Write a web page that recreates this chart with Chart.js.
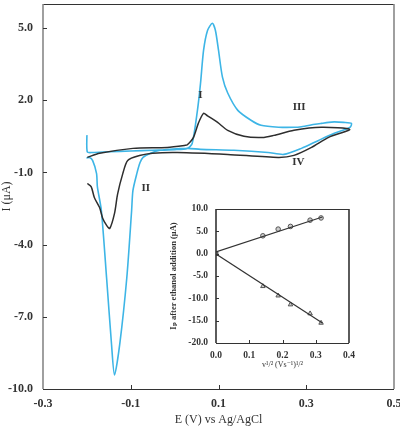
<!DOCTYPE html>
<html>
<head>
<meta charset="utf-8">
<script src="https://cdn.jsdelivr.net/npm/chart.js@4"></script>
<style>
  html,body{margin:0;padding:0;background:#fff;}
  #wrap{position:relative;width:400px;height:427px;}
  #main{position:absolute;left:0;top:0;}
  #inset{position:absolute;left:165px;top:203px;}
</style>
</head>
<body>
<div id="wrap">
  <canvas id="main" width="400" height="427"></canvas>
  <canvas id="inset" width="190" height="170"></canvas>
</div>
<script>
// ---------- Main CV data (E in V vs Ag/AgCl, I in µA) ----------
const blueE = [-0.200,-0.199,-0.187,-0.150,-0.100,-0.050,0.000,0.029,0.040,0.052,0.059,0.066,0.075,0.086,0.093,0.100,0.109,0.121,0.144,0.174,0.197,0.237,0.272,0.289,0.320,0.335,0.351,0.364,0.385,0.403,
               0.400,0.364,0.328,0.289,0.249,0.213,0.135,0.059,0.029,-0.033,-0.055,-0.072,-0.079,-0.086,-0.095,-0.098,-0.109,-0.125,-0.137,-0.144,-0.155,-0.167,-0.176,-0.178,-0.187,-0.194,-0.201];
const blueI = [0.55,-0.15,-0.17,-0.14,-0.11,-0.08,-0.05,0.00,0.20,1.58,2.70,4.08,4.90,5.20,4.90,4.08,2.96,2.30,1.58,1.17,0.96,0.88,0.875,0.90,1.00,1.04,1.08,1.10,1.08,1.04,
               0.88,0.625,0.33,0.00,-0.25,-0.17,-0.08,-0.04,0.00,-0.08,-0.20,-0.375,-0.60,-1.04,-1.75,-2.58,-5.375,-8.125,-9.42,-8.10,-5.40,-2.58,-1.60,-1.04,-0.50,-0.375,-0.40];
const blackE = [-0.199,-0.171,-0.095,-0.017,0.024,0.029,0.043,0.054,0.066,0.075,0.098,0.121,0.158,0.200,0.226,0.272,0.334,0.399,
                0.351,0.312,0.272,0.236,0.121,0.006,-0.050,-0.080,-0.107,-0.118,-0.130,-0.137,-0.148,-0.155,-0.164,-0.171,-0.183,-0.190,-0.199];
const blackI = [-0.375,-0.20,0.00,0.04,0.125,0.15,0.46,1.04,1.46,1.35,1.08,0.75,0.50,0.45,0.54,0.75,0.875,0.79,
                0.46,0.04,-0.29,-0.375,-0.25,-0.17,-0.20,-0.30,-0.50,-1.04,-1.90,-2.70,-3.33,-3.20,-2.90,-2.46,-2.04,-1.60,-1.46];
const mainXTicks = [-0.3,-0.1,0.1,0.3,0.5];
const mainYTicks = [-10,-7,-4,-1,2,5];
const peakLabels = ['I','II','III','IV'];
const peakLabelE = [0.059,-0.066,0.284,0.282];
const peakLabelI = [2.2,-1.67,1.7,-0.58];

// ---------- Inset data ----------
const sqrtV = [0.000,0.141,0.187,0.224,0.283,0.316];
const ipAnodic = [0.0,4.0,5.5,6.1,7.5,8.0];
const ipCathodic = [0.0,-7.3,-9.4,-11.4,-13.4,-15.5];
const fitX = [0.0,0.32];
const fitAnodic = [0.4,8.2];
const fitCathodic = [-0.1,-15.5];
const insetXTicks = [0.0,0.1,0.2,0.3,0.4];
const insetYTicks = [-20,-15,-10,-5,0,5,10];

const zip = (xs, ys) => xs.map((x,i)=>({x, y: ys[i]}));
const serif = '"Liberation Serif","DejaVu Serif","Times New Roman",serif';

function noPad(s){ s.paddingTop = 0; s.paddingBottom = 0; s.paddingLeft = 0; s.paddingRight = 0; }

function framePlugin(tickLen, leftColor, rightColor){
  return {
    id:'frame'+tickLen,
    afterDraw(chart){
      const {ctx, chartArea:a, scales:{x, y}} = chart;
      ctx.save();
      ctx.lineWidth = 1;
      ctx.strokeStyle = '#333';
      ctx.beginPath();
      ctx.moveTo(a.left, a.top+0.5); ctx.lineTo(a.right, a.top+0.5);
      ctx.moveTo(a.left, a.bottom+0.5); ctx.lineTo(a.right, a.bottom+0.5);
      ctx.stroke();
      ctx.lineWidth = 1.6;
      ctx.strokeStyle = leftColor;
      ctx.beginPath(); ctx.moveTo(a.left, a.top); ctx.lineTo(a.left, a.bottom); ctx.stroke();
      ctx.strokeStyle = rightColor;
      ctx.beginPath(); ctx.moveTo(a.right, a.top); ctx.lineTo(a.right, a.bottom); ctx.stroke();
      ctx.lineWidth = 1; ctx.strokeStyle = '#333';
      ctx.beginPath();
      x.ticks.forEach(t=>{
        const px = Math.round(x.getPixelForValue(t.value))+0.5;
        if (px > a.left+2 && px < a.right-2){ ctx.moveTo(px, a.bottom); ctx.lineTo(px, a.bottom - tickLen); }
      });
      y.ticks.forEach(t=>{
        const py = Math.round(y.getPixelForValue(t.value))+0.5;
        if (py > a.top+2 && py < a.bottom-2){ ctx.moveTo(a.left, py); ctx.lineTo(a.left + tickLen, py); }
      });
      ctx.stroke();
      ctx.restore();
    }
  };
}

const labelPlugin = {
  id:'peakLabels',
  afterDatasetsDraw(chart){
    const {ctx, scales:{x, y}} = chart;
    ctx.save();
    ctx.font = 'bold 11px ' + serif;
    ctx.fillStyle = '#333';
    ctx.textAlign = 'center';
    ctx.textBaseline = 'middle';
    peakLabels.forEach((s,i)=>{
      ctx.fillText(s, x.getPixelForValue(peakLabelE[i]), y.getPixelForValue(peakLabelI[i]));
    });
    ctx.restore();
  }
};

new Chart(document.getElementById('main'), {
  type:'scatter',
  data:{
    datasets:[
      {label:'blank', data: zip(blackE, blackI), showLine:true, borderColor:'#2e2e2e', borderWidth:1.5, pointRadius:0, tension:0.25, fill:false},
      {label:'ethanol', data: zip(blueE, blueI), showLine:true, borderColor:'#3db5e6', borderWidth:1.6, pointRadius:0, tension:0.25, fill:false}
    ]
  },
  options:{
    responsive:false, animation:false,
    layout:{padding:{top:4,right:6,left:0,bottom:0}},
    plugins:{legend:{display:false}, tooltip:{enabled:false}},
    scales:{
      x:{type:'linear', min:-0.3, max:0.5,
         afterBuildTicks: s => { s.ticks = mainXTicks.map(v=>({value:v})); },
         afterFit: s => { s.height = 38; noPad(s); },
         grid:{display:false, drawTicks:false}, border:{display:false},
         ticks:{padding:8, color:'#333', font:{family:serif, size:12, weight:'bold'}, callback:v=>Number(v).toFixed(1), maxRotation:0, autoSkip:false},
         title:{display:true, text:'E (V) vs Ag/AgCl', color:'#333', padding:{top:0,bottom:0}, font:{family:serif, size:12}}
      },
      y:{type:'linear', min:-10, max:6,
         afterBuildTicks: s => { s.ticks = mainYTicks.map(v=>({value:v})); },
         afterFit: s => { s.width = 43; noPad(s); },
         grid:{display:false, drawTicks:false}, border:{display:false},
         ticks:{padding:10, color:'#333', font:{family:serif, size:12, weight:'bold'}, callback:v=>Number(v).toFixed(1), autoSkip:false},
         title:{display:true, text:'I (μA)', color:'#333', padding:{top:0,bottom:0}, font:{family:serif, size:12}}
      }
    }
  },
  plugins:[framePlugin(4,'#888','#888'), labelPlugin]
});

new Chart(document.getElementById('inset'), {
  type:'scatter',
  data:{
    datasets:[
      {label:'fit anodic', data: zip(fitX, fitAnodic), showLine:true, borderColor:'#333', borderWidth:1.2, pointRadius:0},
      {label:'fit cathodic', data: zip(fitX, fitCathodic), showLine:true, borderColor:'#333', borderWidth:1.2, pointRadius:0},
      {label:'anodic', data: zip(sqrtV, ipAnodic), showLine:false, pointStyle: c => c.dataIndex===0 ? 'rect':'circle', pointRadius:2.3, backgroundColor:'#ccc', borderColor:'#555', borderWidth:1},
      {label:'cathodic', data: zip(sqrtV, ipCathodic), showLine:false, pointStyle: c => c.dataIndex===0 ? 'rect':'triangle', pointRadius:2.6, backgroundColor:'#ccc', borderColor:'#555', borderWidth:1}
    ]
  },
  options:{
    responsive:false, animation:false,
    layout:{padding:{top:6,right:6,left:0,bottom:0}},
    plugins:{legend:{display:false}, tooltip:{enabled:false}},
    scales:{
      x:{type:'linear', min:0, max:0.4,
         afterBuildTicks: s => { s.ticks = insetXTicks.map(v=>({value:v})); },
         afterFit: s => { s.height = 30; noPad(s); },
         grid:{display:false, drawTicks:false}, border:{display:false},
         ticks:{padding:7, color:'#333', font:{family:serif, size:9.5, weight:'bold'}, callback:v=>Number(v).toFixed(1), maxRotation:0, autoSkip:false},
         title:{display:true, text:'v¹/² (Vs⁻¹)¹/²', color:'#333', padding:{top:0,bottom:3}, font:{family:serif, size:8}}
      },
      y:{type:'linear', min:-20, max:10,
         afterBuildTicks: s => { s.ticks = insetYTicks.map(v=>({value:v})); },
         afterFit: s => { s.width = 51; noPad(s); },
         grid:{display:false, drawTicks:false}, border:{display:false},
         ticks:{padding:8, color:'#333', font:{family:serif, size:9.5, weight:'bold'}, callback:v=>Number(v).toFixed(1), autoSkip:false},
         title:{display:true, text:'Iₚ after ethanol addition (μA)', color:'#333', padding:{top:4,bottom:0}, font:{family:serif, size:8.5, weight:'bold'}}
      }
    }
  },
  plugins:[framePlugin(3,'#333','#333')]
});
</script>
</body>
</html>
